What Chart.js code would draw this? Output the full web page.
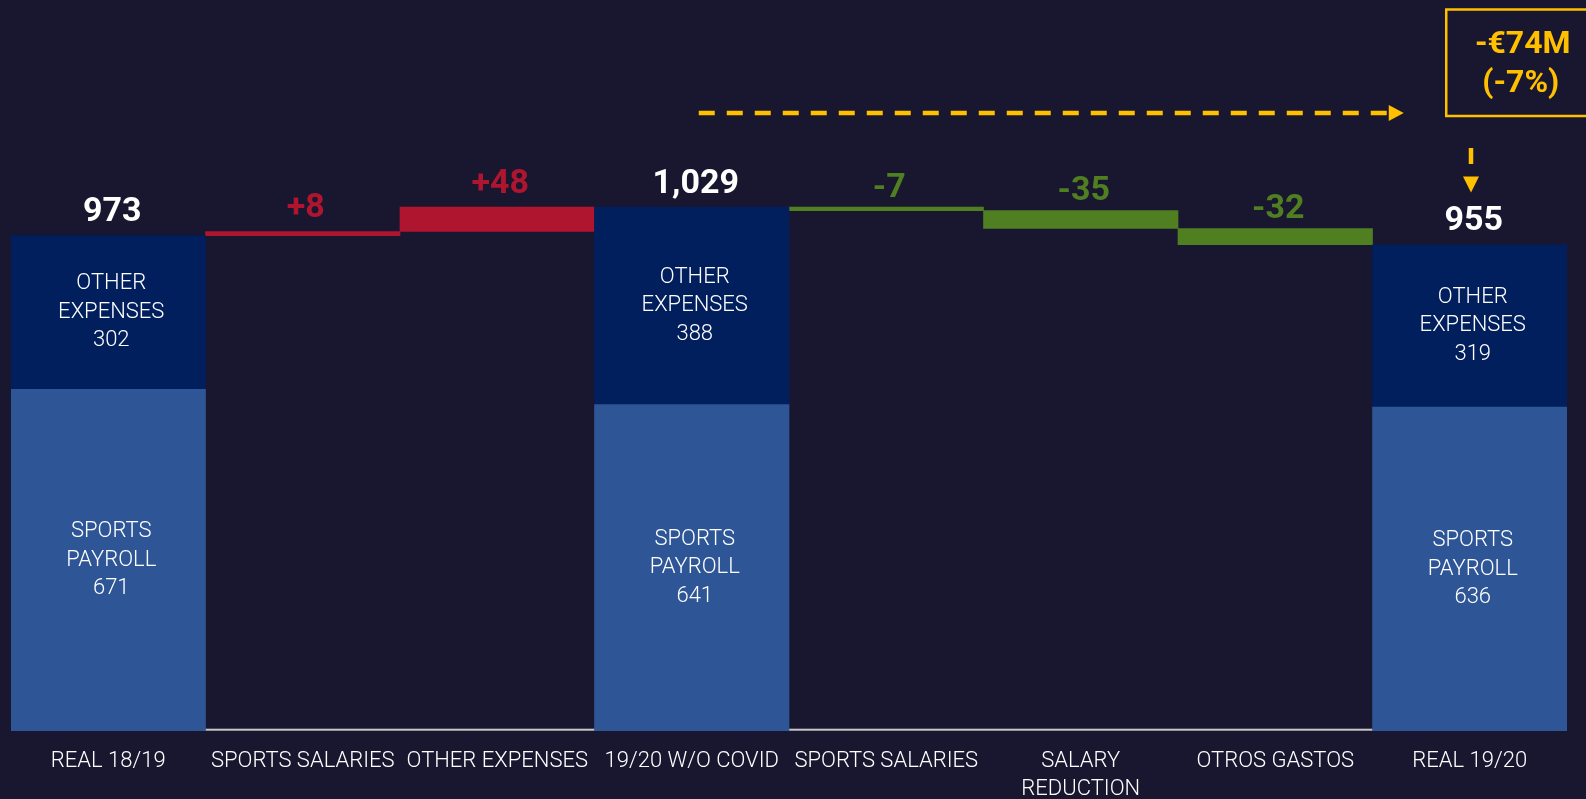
<!DOCTYPE html>
<html lang="en">
<head>
<meta charset="UTF-8">
<title>Personnel expenses: Real 18/19 vs Real 19/20</title>
<script src="https://cdn.jsdelivr.net/npm/chart.js"></script>
<style>
  * { margin: 0; padding: 0; box-sizing: border-box; }
  body { background: #191730; overflow: hidden; }
  .chart-wrap { position: relative; width: 1586px; height: 799px; }
</style>
</head>
<body>
<div class="chart-wrap"><canvas id="waterfall"></canvas></div>
<script>
// --- data (EUR M) ---
const categories = ['REAL 18/19', 'SPORTS SALARIES', 'OTHER EXPENSES', '19/20 W/O COVID',
                    'SPORTS SALARIES', ['SALARY', 'REDUCTION'], 'OTROS GASTOS', 'REAL 19/20'];
const payroll       = [671, null, null, 641, null, null, null, 636];
const otherExpenses = [302, null, null, 388, null, null, null, 319];
const changes       = [null, 8, 48, null, -7, -35, -32, null];
const yMax = 1420;

const colors = {
  bg: '#191730',
  payroll: '#2e5596',
  other: '#001f5c',
  up: '#b0152f',
  down: '#4f7f21',
  accent: '#ffc000',
  axis: '#c8c8c8'
};

// build floating bars from the running total
const payrollBars = [], otherBars = [], upBars = [], downBars = [];
let running = 0;
categories.forEach((c, i) => {
  if (payroll[i] !== null) {
    running = payroll[i] + otherExpenses[i];
    payrollBars.push([0, payroll[i]]);
    otherBars.push([payroll[i], running]);
    upBars.push(null);
    downBars.push(null);
  } else {
    const from = running;
    running += changes[i];
    payrollBars.push(null);
    otherBars.push(null);
    upBars.push(changes[i] > 0 ? [from, running] : null);
    downBars.push(changes[i] < 0 ? [from, running] : null);
  }
});

const firstTotal = payroll[3] + otherExpenses[3];
const lastTotal = payroll[7] + otherExpenses[7];
const diff = lastTotal - firstTotal;
const diffPct = Math.round(diff / firstTotal * 100);

// value labels, inner labels and the annotation arrow/box
const labelsPlugin = {
  id: 'waterfallLabels',
  beforeDatasetsDraw(chart) {
    const { ctx, chartArea, scales: { y } } = chart;
    const y0 = y.getPixelForValue(0);
    ctx.save();
    ctx.fillStyle = colors.axis;
    ctx.fillRect(chartArea.left, y0 - 2.3, chartArea.right - chartArea.left, 2);
    ctx.restore();
  },
  afterDatasetsDraw(chart) {
    const ctx = chart.ctx;
    const ds = chart.data.datasets;
    ctx.save();
    ctx.textAlign = 'center';
    ctx.textBaseline = 'middle';

    const drawLines = (lines, cx, cy) => {
      const lh = 28.5;
      lines.forEach((t, k) => ctx.fillText(t, cx, cy + (k - (lines.length - 1) / 2) * lh));
    };

    categories.forEach((c, i) => {
      if (payroll[i] !== null) {
        const pEl = chart.getDatasetMeta(0).data[i];
        const oEl = chart.getDatasetMeta(1).data[i];
        // inner labels
        ctx.fillStyle = '#ffffff';
        ctx.font = '300 22px Roboto';
        drawLines(['OTHER', 'EXPENSES', String(otherExpenses[i])], oEl.x + 3, (oEl.y + oEl.base) / 2);
        drawLines(['SPORTS', 'PAYROLL', String(payroll[i])], pEl.x + 3, (pEl.y + pEl.base) / 2);
        // total on top
        ctx.font = 'bold 34px Roboto';
        ctx.fillText((payroll[i] + otherExpenses[i]).toLocaleString('en-US'), oEl.x + 4, Math.min(oEl.y, oEl.base) - 23);
      } else {
        const d = changes[i] > 0 ? 2 : 3;
        const el = chart.getDatasetMeta(d).data[i];
        ctx.fillStyle = ds[d].backgroundColor;
        ctx.font = 'bold 34px Roboto';
        const off = changes[i] > 0 ? 23 : 19;
        ctx.fillText((changes[i] > 0 ? '+' : '') + changes[i], el.x + 3, Math.min(el.y, el.base) - off);
      }
    });

    // dashed arrow from 19/20 w/o covid towards real 19/20
    const xs = chart.scales.x;
    const top = chart.chartArea.top;
    const ay = top + 105;
    const x1 = xs.getPixelForValue(3) + 7;
    const tip = xs.getPixelForValue(7) - 66;
    ctx.strokeStyle = colors.accent;
    ctx.fillStyle = colors.accent;
    ctx.lineWidth = 4.5;
    ctx.setLineDash([16, 12]);
    ctx.beginPath();
    ctx.moveTo(x1, ay);
    ctx.lineTo(tip - 15, ay);
    ctx.stroke();
    ctx.beginPath();
    ctx.moveTo(tip - 15, ay - 8);
    ctx.lineTo(tip, ay);
    ctx.lineTo(tip - 15, ay + 8);
    ctx.closePath();
    ctx.fill();

    // small down arrow above the final bar
    const lastEl = chart.getDatasetMeta(1).data[7];
    const vx = Math.round(lastEl.x) + 1;
    ctx.setLineDash([]);
    ctx.beginPath();
    ctx.moveTo(vx, top + 140);
    ctx.lineTo(vx, top + 156);
    ctx.stroke();
    ctx.beginPath();
    ctx.moveTo(vx - 8, top + 168.5);
    ctx.lineTo(vx + 8, top + 168.5);
    ctx.lineTo(vx, top + 184.5);
    ctx.closePath();
    ctx.fill();

    // highlight box
    ctx.lineWidth = 2.5;
    ctx.strokeRect(tip + 42.5, top + 1.5, 200, 106.5);
    ctx.font = 'bold 32px Roboto';
    ctx.fillText('-\u20AC' + Math.abs(diff) + 'M', tip + 119, top + 37);
    ctx.fillText('(' + diffPct + '%)', tip + 117, top + 76);
    ctx.restore();
  }
};

Chart.defaults.font.family = 'Roboto, sans-serif';

new Chart(document.getElementById('waterfall'), {
  type: 'bar',
  data: {
    labels: categories,
    datasets: [
      { label: 'Sports payroll', data: payrollBars, backgroundColor: colors.payroll },
      { label: 'Other expenses', data: otherBars, backgroundColor: colors.other },
      { label: 'Increase', data: upBars, backgroundColor: colors.up },
      { label: 'Decrease', data: downBars, backgroundColor: colors.down }
    ]
  },
  options: {
    responsive: true,
    maintainAspectRatio: false,
    animation: false,
    devicePixelRatio: 1,
    layout: { padding: { top: 8, left: 11, right: 19, bottom: 0 } },
    datasets: {
      bar: { grouped: false, barPercentage: 1, categoryPercentage: 1, borderWidth: 0 }
    },
    plugins: {
      legend: { display: false },
      tooltip: { enabled: false }
    },
    scales: {
      x: {
        grid: { display: false },
        border: { display: false },
        ticks: {
          color: '#ffffff',
          font: { size: 22, weight: '300', lineHeight: 1.3 },
          padding: 8,
          maxRotation: 0,
          autoSkip: false
        },
        afterFit(scale) { scale.height = 68; }
      },
      y: { display: false, min: 0, max: yMax }
    }
  },
  plugins: [labelsPlugin]
});
</script>
</body>
</html>
